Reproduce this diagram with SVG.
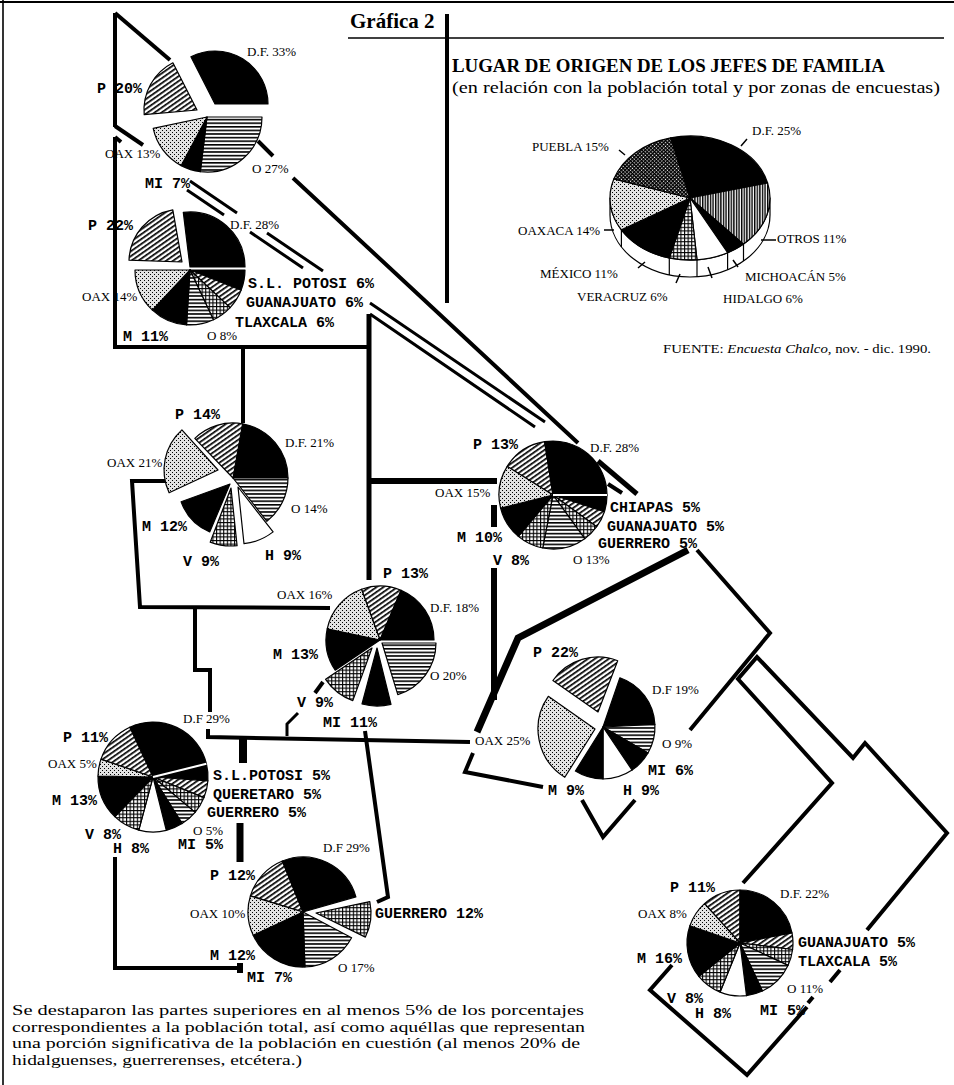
<svg xmlns="http://www.w3.org/2000/svg" width="954" height="1085" viewBox="0 0 954 1085">
<defs>
<pattern id="pD" width="4" height="4" patternUnits="userSpaceOnUse" patternTransform="rotate(-35)"><rect width="4" height="4" fill="#fff"/><rect width="4" height="1.7" fill="#000"/></pattern>
<pattern id="pH" width="4" height="3.6" patternUnits="userSpaceOnUse"><rect width="4" height="3.6" fill="#fff"/><rect width="4" height="1.6" fill="#000"/></pattern>
<pattern id="pG" width="3.6" height="3.6" patternUnits="userSpaceOnUse"><rect width="3.6" height="3.6" fill="#fff"/><rect width="3.6" height="1.1" fill="#000"/><rect width="1.1" height="3.6" fill="#000"/></pattern>
<pattern id="pS" width="4" height="4" patternUnits="userSpaceOnUse"><rect width="4" height="4" fill="#e2e2e2"/><rect width="1" height="1" fill="#000"/><rect x="2" y="2" width="1" height="1" fill="#000"/></pattern>
<pattern id="pV" width="2.6" height="4" patternUnits="userSpaceOnUse"><rect width="2.6" height="4" fill="#fff"/><rect width="1.4" height="4" fill="#000"/></pattern>
<pattern id="pX" width="2.6" height="2.6" patternUnits="userSpaceOnUse" patternTransform="rotate(45)"><rect width="2.6" height="2.6" fill="#fff"/><rect width="2.6" height="1.4" fill="#000"/><rect width="1.4" height="2.6" fill="#000"/></pattern>
</defs>
<style>
.sl{stroke:#000;stroke-width:1.2;stroke-linejoin:round}
.k{fill:#000}.w{fill:#fff}.d{fill:url(#pD)}.h{fill:url(#pH)}.g{fill:url(#pG)}.s{fill:url(#pS)}.v{fill:url(#pV)}.x{fill:url(#pX)}
.m{font-family:"Liberation Mono",monospace;font-size:15px;font-weight:bold;fill:#000}
.t{font-family:"Liberation Serif",serif;font-size:13px;fill:#000}
.c{fill:none;stroke:#000;stroke-width:4;stroke-linejoin:miter}
.c3{stroke-width:3}.c5{stroke-width:5}.c6{stroke-width:6}.c7{stroke-width:7}.c8{stroke-width:8}
.body{font-family:"Liberation Serif",serif;font-size:15px;fill:#000}
</style>
<rect width="954" height="1085" fill="#fff"/>
<line x1="0" y1="2" x2="954" y2="2" stroke="#000" stroke-width="2"/>
<line x1="3" y1="0" x2="3" y2="1085" stroke="#000" stroke-width="1.6"/>

<g id="header">
<text x="350" y="28" font-family="Liberation Serif,serif" font-size="21" font-weight="bold">Gráfica 2</text>
<line x1="348" y1="38" x2="944" y2="38" stroke="#000" stroke-width="1.5"/>
<line x1="447" y1="14" x2="447" y2="303" stroke="#000" stroke-width="4"/>
<text x="452" y="72" font-family="Liberation Serif,serif" font-size="18" font-weight="bold" textLength="433" lengthAdjust="spacingAndGlyphs">LUGAR DE ORIGEN DE LOS JEFES DE FAMILIA</text>
<text x="452" y="93" font-family="Liberation Serif,serif" font-size="17" textLength="488" lengthAdjust="spacingAndGlyphs">(en relación con la población total y por zonas de encuestas)</text>
<text x="663" y="353" font-family="Liberation Serif,serif" font-size="12" textLength="268" lengthAdjust="spacingAndGlyphs">FUENTE: <tspan font-style="italic">Encuesta Chalco</tspan>, nov. - dic. 1990.</text>
</g>

<g id="pie-total">
<path class="sl w" d="M610,198 A80,62 0 0 0 770,198 L770,215 A80,62 0 0 1 610,215 Z"/>
<path class="sl" stroke-width="1" d="M743.5,244.1V261.1M727.6,252.7V269.7M697,259.8V276.8M669.3,257.9V274.9M621.4,229.9V246.9"/>
<path class="sl k" d="M690,198 L670.6,137.8 A80,62 0 0 1 767.6,183 Z"/>
<path class="sl v" d="M690,198 L767.6,183 A80,62 0 0 1 743.5,244.1 Z"/>
<path class="sl k" d="M690,198 L743.5,244.1 A80,62 0 0 1 727.6,252.7 Z"/>
<path class="sl w" d="M690,198 L727.6,252.7 A80,62 0 0 1 697,259.8 Z"/>
<path class="sl g" d="M690,198 L697,259.8 A80,62 0 0 1 669.3,257.9 Z"/>
<path class="sl k" d="M690,198 L669.3,257.9 A80,62 0 0 1 621.4,229.9 Z"/>
<path class="sl s" d="M690,198 L621.4,229.9 A80,62 0 0 1 613.9,178.8 Z"/>
<path class="sl x" d="M690,198 L613.9,178.8 A80,62 0 0 1 670.6,137.8 Z"/>
<path fill="none" stroke="#000" stroke-width="1.5" d="M741,146L747,139M619,150L625,155M604,230H614M761,240H776M638,268L645,262M676,283L680,274M708,267L712,278M733,260L738,267"/>
<text class="t" x="752" y="135">D.F. 25%</text>
<text class="t" x="532" y="151">PUEBLA 15%</text>
<text class="t" x="518" y="235">OAXACA 14%</text>
<text class="t" x="777" y="243">OTROS 11%</text>
<text class="t" x="540" y="278">MÉXICO 11%</text>
<text class="t" x="577" y="301">VERACRUZ 6%</text>
<text class="t" x="723" y="303">HIDALGO 6%</text>
<text class="t" x="745" y="281">MICHOACÁN 5%</text>
</g>

<g id="connectors">
<path class="c" d="M115,13 L170,60"/>
<path class="c" d="M115,13 L115,127"/>
<path class="c" d="M115,126 L143,145"/>
<path class="c" d="M115,137 L121,142"/>
<path class="c" d="M115,137 L115,347 L369,347"/>
<path class="c c5" d="M369,314 L369,580"/>
<path class="c" d="M243,347 L243,423"/>
<path class="c c6" d="M369,481 L497,481"/>
<path class="c" d="M165,481 L132,481 L140,607 L330,608"/>
<path class="c" d="M195,608 L195,670 L210,670 L210,712"/>
<path class="c" d="M208,729 L208,737 L470,742"/>
<path class="c c3" d="M287,736 L287,724 L298,713"/>
<path class="c" d="M323,682 L315,693"/>
<path class="c" d="M365,731 L388,897 L377,902"/>
<path class="c c8" d="M243,737 L243,763"/>
<path class="c c7" d="M240,823 L240,862"/>
<path class="c" d="M115,857 L115,968 L240,968"/>
<path class="c c6" d="M240,963 L240,973"/>
<path class="c c6" d="M494,505 L494,527"/>
<path class="c c6" d="M494,568 L494,700"/>
<path class="c c7" d="M688,550 L518,638 L477,732"/>
<path class="c" d="M473,753 L465,772 L543,787"/>
<path class="c" d="M582,800 L603,837 L635,800"/>
<path class="c" d="M697,550 L770,633 L690,730"/>
<path class="c" d="M743,883 L832,783 L738,679 L757,657 L853,758 L865,743 L947,833 L867,930"/>
<path class="c" d="M840,970 L830,982 M813,997 L808,1003 M807,1007 L747,1075 L650,990 L672,965"/>
<path class="c" d="M258,141 L273,156 M293,178 L578,443"/>
<path class="c c5" d="M598,461 L637,494"/>
<path class="c" d="M608,484 L622,493"/>
<path class="c c3" d="M190,181 L237,213 M187,190 L224,215 M250,232 L303,268 M267,233 L323,271 M370,314 L535,427 M370,303 L545,422"/>
</g>

<g id="pie-1">
<path class="sl k" d="M215,104 L190.9,56.8 A53,53 0 0 1 268,104 Z"/>
<path class="sl d" d="M197,110 L144.2,114.6 A53,53 0 0 1 172.9,62.8 Z"/>
<path class="sl h" d="M207,117 L262,117 A55,55 0 0 1 200.3,171.6 Z"/>
<path class="sl k" d="M207,117 L200.3,171.6 A55,55 0 0 1 181.2,165.6 Z"/>
<path class="sl s" d="M207,117 L181.2,165.6 A55,55 0 0 1 153.2,128.4 Z"/>
<text class="t" x="247" y="56">D.F. 33%</text>
<text class="m" x="97" y="93">P 20%</text>
<text class="t" x="105" y="158">OAX 13%</text>
<text class="t" x="252" y="173">O 27%</text>
<text class="m" x="145" y="188">MI 7%</text>
</g>

<g id="pie-2">
<path class="sl d" d="M182,262 L129,260.2 A53,53 0 0 1 172.8,209.8 Z"/>
<path class="sl k" d="M190,267 L183.3,212.4 A55,55 0 0 1 245,267 Z"/>
<path class="sl k" d="M190,270 L245,270 A55,55 0 0 1 241.1,290.2 Z"/>
<path class="sl d" d="M190,270 L241.1,290.2 A55,55 0 0 1 230.1,307.6 Z"/>
<path class="sl g" d="M190,270 L230.1,307.6 A55,55 0 0 1 213.4,319.8 Z"/>
<path class="sl h" d="M190,270 L213.4,319.8 A55,55 0 0 1 186.5,324.9 Z"/>
<path class="sl k" d="M190,270 L186.5,324.9 A55,55 0 0 1 152.4,310.1 Z"/>
<path class="sl s" d="M190,270 L152.4,310.1 A55,55 0 0 1 135,270 Z"/>
<text class="m" x="88" y="230">P 22%</text>
<text class="t" x="230" y="229">D.F. 28%</text>
<text class="t" x="82" y="301">OAX 14%</text>
<text class="m" x="248" y="288">S.L. POTOSI 6%</text>
<text class="m" x="246" y="307">GUANAJUATO 6%</text>
<text class="m" x="235" y="327">TLAXCALA 6%</text>
<text class="m" x="123" y="341">M 11%</text>
<text class="t" x="207" y="340">O 8%</text>
</g>

<g id="pie-3">
<path class="sl k" d="M233,478 L242.6,423.8 A55,55 0 0 1 288,478 Z"/>
<path class="sl h" d="M233,478 L288,478 A55,55 0 0 1 266.9,521.3 Z"/>
<path class="sl d" d="M233,478 L194.8,438.4 A55,55 0 0 1 242.6,423.8 Z"/>
<path class="sl w" d="M238,487 L273.1,531.9 A57,57 0 0 1 244,543.7 Z"/>
<path class="sl g" d="M231,488 L237.1,545.7 A58,58 0 0 1 210.2,542.1 Z"/>
<path class="sl k" d="M230,484 L209.7,531.9 A52,52 0 0 1 181.1,501.8 Z"/>
<path class="sl s" d="M218,470 L169.1,492.8 A54,54 0 0 1 181.9,429.9 Z"/>
<text class="m" x="175" y="419">P 14%</text>
<text class="t" x="285" y="447">D.F. 21%</text>
<text class="t" x="107" y="467">OAX 21%</text>
<text class="t" x="291" y="513">O 14%</text>
<text class="m" x="142" y="531">M 12%</text>
<text class="m" x="265" y="560">H 9%</text>
<text class="m" x="183" y="566">V 9%</text>
</g>

<g id="pie-4">
<path class="sl d" d="M553,495 L507.2,466.4 A54,54 0 0 1 544.6,441.7 Z"/>
<path class="sl k" d="M553,495 L544.6,441.7 A54,54 0 0 1 607,495 Z"/>
<path class="sl k" d="M553,495 L607,495 A54,54 0 0 1 604.4,511.7 Z"/>
<path class="sl d" d="M553,495 L604.4,511.7 A54,54 0 0 1 596.7,526.7 Z"/>
<path class="sl g" d="M553,495 L596.7,526.7 A54,54 0 0 1 584.7,538.7 Z"/>
<path class="sl h" d="M553,495 L584.7,538.7 A54,54 0 0 1 542.7,548 Z"/>
<path class="sl g" d="M553,495 L542.7,548 A54,54 0 0 1 518.3,536.4 Z"/>
<path class="sl k" d="M553,495 L518.3,536.4 A54,54 0 0 1 500.6,508.1 Z"/>
<path class="sl s" d="M553,495 L500.6,508.1 A54,54 0 0 1 507.2,466.4 Z"/>
<line x1="553" y1="495" x2="607" y2="495" stroke="#fff" stroke-width="2"/>
<text class="m" x="473" y="449">P 13%</text>
<text class="t" x="590" y="452">D.F. 28%</text>
<text class="t" x="435" y="497">OAX 15%</text>
<text class="m" x="610" y="512">CHIAPAS 5%</text>
<text class="m" x="607" y="531">GUANAJUATO 5%</text>
<text class="m" x="598" y="548">GUERRERO 5%</text>
<text class="m" x="457" y="542">M 10%</text>
<text class="m" x="493" y="565">V 8%</text>
<text class="t" x="573" y="564">O 13%</text>
</g>

<g id="pie-5">
<path class="sl k" d="M603,727 L619.9,677.8 A52,52 0 0 1 654.9,724.3 Z"/>
<path class="sl h" d="M603,727 L654.9,724.3 A52,52 0 0 1 648,753 Z"/>
<path class="sl k" d="M603,727 L648,753 A52,52 0 0 1 632.1,770.1 Z"/>
<path class="sl w" d="M603,727 L632.1,770.1 A52,52 0 0 1 603,779 Z"/>
<path class="sl k" d="M603,727 L603,779 A52,52 0 0 1 575.4,771.1 Z"/>
<path class="sl s" d="M595,729 L564.8,777.3 A57,57 0 0 1 548.3,696.3 Z"/>
<path class="sl d" d="M598,712 L552.9,680.5 A55,55 0 0 1 617.7,660.7 Z"/>
<text class="m" x="533" y="657">P 22%</text>
<text class="t" x="652" y="694">D.F 19%</text>
<text class="t" x="662" y="748">O 9%</text>
<text class="m" x="648" y="775">MI 6%</text>
<text class="m" x="623" y="795">H 9%</text>
<text class="m" x="548" y="795">M 9%</text>
<text class="t" x="475" y="745">OAX 25%</text>
</g>

<g id="pie-6">
<path class="sl d" d="M380,640 L361.5,589.3 A54,54 0 0 1 401.1,590.3 Z"/>
<path class="sl k" d="M380,640 L401.1,590.3 A54,54 0 0 1 434,640 Z"/>
<path class="sl h" d="M382,643 L436,643 A54,54 0 0 1 397.8,694.6 Z"/>
<path class="sl k" d="M377,648 L391,704.3 A58,58 0 0 1 362,704 Z"/>
<path class="sl g" d="M372,648 L352.8,700.6 A56,56 0 0 1 325.6,679.3 Z"/>
<path class="sl k" d="M380,640 L335.2,670.2 A54,54 0 0 1 327.2,628.8 Z"/>
<path class="sl s" d="M380,640 L327.2,628.8 A54,54 0 0 1 361.5,589.3 Z"/>
<text class="m" x="383" y="578">P 13%</text>
<text class="t" x="277" y="599">OAX 16%</text>
<text class="t" x="430" y="612">D.F. 18%</text>
<text class="m" x="273" y="659">M 13%</text>
<text class="t" x="430" y="680">O 20%</text>
<text class="m" x="297" y="707">V 9%</text>
<text class="m" x="323" y="727">MI 11%</text>
</g>

<g id="pie-7">
<path class="sl k" d="M153,777 L129.8,727.2 A55,55 0 0 1 206.4,763.7 Z"/>
<path class="sl k" d="M153,777 L206.4,763.7 A55,55 0 0 1 207.9,780.8 Z"/>
<path class="sl d" d="M153,777 L207.9,780.8 A55,55 0 0 1 204,797.6 Z"/>
<path class="sl g" d="M153,777 L204,797.6 A55,55 0 0 1 195.1,812.4 Z"/>
<path class="sl h" d="M153,777 L195.1,812.4 A55,55 0 0 1 182.1,823.6 Z"/>
<path class="sl k" d="M153,777 L182.1,823.6 A55,55 0 0 1 166.3,830.4 Z"/>
<path class="sl w" d="M153,777 L166.3,830.4 A55,55 0 0 1 138.8,830.1 Z"/>
<path class="sl g" d="M153,777 L138.8,830.1 A55,55 0 0 1 114.8,816.6 Z"/>
<path class="sl k" d="M153,777 L114.8,816.6 A55,55 0 0 1 98,776 Z"/>
<path class="sl s" d="M153,777 L98,776 A55,55 0 0 1 101,759.1 Z"/>
<path class="sl d" d="M153,777 L101,759.1 A55,55 0 0 1 129.8,727.2 Z"/>
<line x1="153" y1="777" x2="206.4" y2="763.7" stroke="#fff" stroke-width="2"/>
<text class="t" x="183" y="723">D.F 29%</text>
<text class="m" x="63" y="742">P 11%</text>
<text class="t" x="48" y="768">OAX 5%</text>
<text class="m" x="213" y="780">S.L.POTOSI 5%</text>
<text class="m" x="213" y="799">QUERETARO 5%</text>
<text class="m" x="207" y="817">GUERRERO 5%</text>
<text class="m" x="52" y="805">M 13%</text>
<text class="t" x="193" y="835">O 5%</text>
<text class="m" x="85" y="839">V 8%</text>
<text class="m" x="178" y="849">MI 5%</text>
<text class="m" x="113" y="853">H 8%</text>
</g>

<g id="pie-8">
<path class="sl d" d="M303,912 L250.4,895.9 A55,55 0 0 1 282.4,861 Z"/>
<path class="sl k" d="M303,912 L282.4,861 A55,55 0 0 1 355.9,896.8 Z"/>
<path class="sl g" d="M316,913 L369.8,901.6 A55,55 0 0 1 365.4,937.1 Z"/>
<path class="sl h" d="M303,912 L351.6,937.8 A55,55 0 0 1 304.9,967 Z"/>
<path class="sl k" d="M303,912 L304.9,967 A55,55 0 0 1 253.2,935.2 Z"/>
<path class="sl s" d="M303,912 L253.2,935.2 A55,55 0 0 1 250.4,895.9 Z"/>
<text class="t" x="323" y="852">D.F 29%</text>
<text class="m" x="210" y="880">P 12%</text>
<text class="t" x="190" y="918">OAX 10%</text>
<text class="m" x="375" y="918">GUERRERO 12%</text>
<text class="m" x="210" y="960">M 12%</text>
<text class="t" x="338" y="972">O 17%</text>
<text class="m" x="247" y="982">MI 7%</text>
</g>

<g id="pie-9">
<path class="sl d" d="M740,943 L704.5,903.6 A53,53 0 0 1 740,890 Z"/>
<path class="sl k" d="M740,943 L740,890 A53,53 0 0 1 792,932.9 Z"/>
<path class="sl d" d="M740,943 L792,932.9 A53,53 0 0 1 792.6,949.5 Z"/>
<path class="sl g" d="M740,943 L792.6,949.5 A53,53 0 0 1 788,965.4 Z"/>
<path class="sl h" d="M740,943 L788,965.4 A53,53 0 0 1 762.4,991 Z"/>
<path class="sl k" d="M740,943 L762.4,991 A53,53 0 0 1 746.5,995.6 Z"/>
<path class="sl w" d="M740,943 L746.5,995.6 A53,53 0 0 1 720.1,992.1 Z"/>
<path class="sl g" d="M740,943 L720.1,992.1 A53,53 0 0 1 698.8,976.4 Z"/>
<path class="sl k" d="M740,943 L698.8,976.4 A53,53 0 0 1 689.9,925.7 Z"/>
<path class="sl s" d="M740,943 L689.9,925.7 A53,53 0 0 1 704.5,903.6 Z"/>
<text class="m" x="670" y="892">P 11%</text>
<text class="t" x="780" y="898">D.F. 22%</text>
<text class="t" x="638" y="918">OAX 8%</text>
<text class="m" x="798" y="947">GUANAJUATO 5%</text>
<text class="m" x="798" y="966">TLAXCALA 5%</text>
<text class="m" x="637" y="963">M 16%</text>
<text class="t" x="787" y="993">O 11%</text>
<text class="m" x="667" y="1003">V 8%</text>
<text class="m" x="695" y="1018">H 8%</text>
<text class="m" x="760" y="1015">MI 5%</text>
</g>

<g id="note">
<text class="body" x="12" y="1015" textLength="572" lengthAdjust="spacingAndGlyphs">Se destaparon las partes superiores en al menos 5% de los porcentajes</text>
<text class="body" x="12" y="1031.5" textLength="573" lengthAdjust="spacingAndGlyphs">correspondientes a la población total, así como aquéllas que representan</text>
<text class="body" x="12" y="1048" textLength="568" lengthAdjust="spacingAndGlyphs">una porción significativa de la población en cuestión (al menos 20% de</text>
<text class="body" x="12" y="1064.5" textLength="290" lengthAdjust="spacingAndGlyphs">hidalguenses, guerrerenses, etcétera.)</text>
</g>
</svg>
